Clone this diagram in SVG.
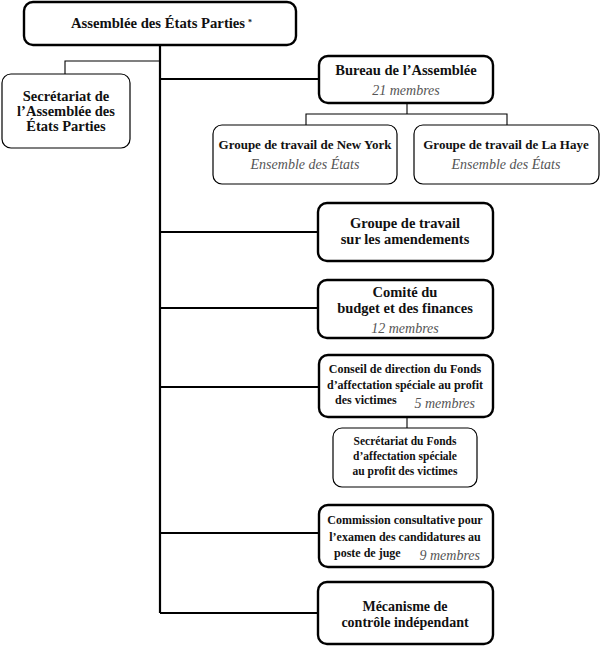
<svg xmlns="http://www.w3.org/2000/svg" width="600" height="646" viewBox="0 0 600 646">
<style>
.bx{fill:#fff;stroke:#000;stroke-width:2.4}
.bt{fill:#fff;stroke:#000;stroke-width:1.2}
.t{font-family:"Liberation Serif","Times New Roman",serif;font-weight:bold;fill:#111;text-anchor:middle}
.i{font-family:"Liberation Serif","Times New Roman",serif;font-style:italic;fill:#555;text-anchor:middle;font-size:14px}
.c{fill:none;stroke:#000;stroke-width:2.2}
.ct{fill:none;stroke:#000;stroke-width:1.1}
</style>
<rect width="600" height="646" fill="#fff"/>
<g id="connectors">
<path class="c" d="M160,45 V613"/>
<path class="ct" d="M160,61 H65 V74"/>
<path class="c" d="M160,79 H319"/>
<path class="ct" d="M407,103 V114 M306,125 V114 H507 V125"/>
<path class="c" d="M160,232 H318"/>
<path class="c" d="M160,308 H318"/>
<path class="c" d="M160,387 H319"/>
<path class="ct" d="M407,417 V428"/>
<path class="c" d="M160,533 H319"/>
<path class="c" d="M160,613 H318"/>
</g>
<g id="assemblee">
<rect class="bx" x="24" y="2" width="272" height="43" rx="9"/>
<text class="t" x="158" y="28" font-size="14.7">Assemblée des États Parties</text>
<text class="t" x="250" y="25" font-size="8">*</text>
</g>
<g id="secretariat">
<rect class="bt" x="2" y="74" width="128" height="74" rx="9"/>
<text class="t" x="66" y="101" font-size="14.5">Secrétariat de</text>
<text class="t" x="66" y="116" font-size="14.5">l’Assemblée des</text>
<text class="t" x="66" y="131" font-size="14.5">États Parties</text>
</g>
<g id="bureau">
<rect class="bx" x="319" y="56" width="174" height="47" rx="9"/>
<text class="t" x="406" y="75" font-size="14.5">Bureau de l’Assemblée</text>
<text class="i" x="406" y="95">21 membres</text>
</g>
<g id="newyork">
<rect class="bt" x="213" y="125" width="184" height="59" rx="9"/>
<text class="t" x="305" y="149" font-size="13">Groupe de travail de New York</text>
<text class="i" x="305" y="169">Ensemble des États</text>
</g>
<g id="lahaye">
<rect class="bt" x="414" y="125" width="185" height="59" rx="9"/>
<text class="t" x="506" y="149" font-size="13">Groupe de travail de La Haye</text>
<text class="i" x="506" y="169">Ensemble des États</text>
</g>
<g id="amendements">
<rect class="bx" x="318" y="203" width="175" height="58" rx="9"/>
<text class="t" x="405" y="228" font-size="14.5">Groupe de travail</text>
<text class="t" x="405" y="244" font-size="14.5">sur les amendements</text>
</g>
<g id="comite">
<rect class="bx" x="318" y="280" width="175" height="58" rx="9"/>
<text class="t" x="405" y="297" font-size="14.5">Comité du</text>
<text class="t" x="405" y="313" font-size="14.5">budget et des finances</text>
<text class="i" x="405" y="333">12 membres</text>
</g>
<g id="conseil">
<rect class="bx" x="319" y="355" width="174" height="62" rx="9"/>
<text class="t" x="405" y="373" font-size="12">Conseil de direction du Fonds</text>
<text class="t" x="405" y="389" font-size="12">d’affectation spéciale au profit</text>
<text class="t" x="335" y="404" font-size="12" style="text-anchor:start">des victimes</text>
<text class="i" x="475" y="408" style="text-anchor:end">5 membres</text>
</g>
<g id="secfonds">
<rect class="bt" x="333" y="428" width="144" height="59" rx="9"/>
<text class="t" x="405" y="445" font-size="11.5">Secrétariat du Fonds</text>
<text class="t" x="405" y="460" font-size="11.5">d’affectation spéciale</text>
<text class="t" x="405" y="475" font-size="11.5">au profit des victimes</text>
</g>
<g id="commission">
<rect class="bx" x="319" y="505" width="174" height="62" rx="9"/>
<text class="t" x="405" y="524" font-size="12">Commission consultative pour</text>
<text class="t" x="405" y="541" font-size="12">l’examen des candidatures au</text>
<text class="t" x="334" y="557" font-size="12" style="text-anchor:start">poste de juge</text>
<text class="i" x="480" y="560" style="text-anchor:end">9 membres</text>
</g>
<g id="mecanisme">
<rect class="bx" x="318" y="582" width="175" height="62" rx="9"/>
<text class="t" x="405" y="611" font-size="14">Mécanisme de</text>
<text class="t" x="405" y="627" font-size="14">contrôle indépendant</text>
</g>
</svg>
